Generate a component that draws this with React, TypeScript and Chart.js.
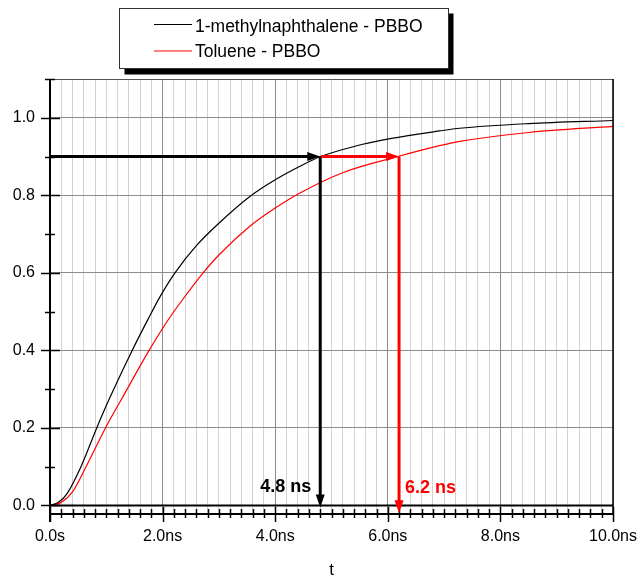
import { useEffect, useRef } from 'react';
import { Chart, registerables } from 'chart.js';
Chart.register(...registerables);

// ---- data ----
const seriesNames = ['1-methylnaphthalene - PBBO', 'Toluene - PBBO'];
const seriesColors = ['#000000', '#ff0000'];

const methylT = [0, 0.15, 0.3, 0.55, 0.83, 1.06, 1.46, 1.74, 1.96, 2.22, 2.6, 3.0, 3.55, 4.0, 4.44, 4.81, 5.4, 6.04, 6.92, 7.28, 8.5, 10];
const methylY = [0, 0.008, 0.03, 0.1, 0.2, 0.277, 0.4, 0.48, 0.54, 0.6, 0.67, 0.728, 0.797, 0.84, 0.875, 0.9, 0.926, 0.946, 0.966, 0.973, 0.985, 0.993];

const tolueneT = [0, 0.2, 0.4, 0.64, 0.985, 1.27, 1.76, 2.1, 2.35, 2.72, 3.0, 3.55, 4.0, 4.44, 5.21, 6.18, 6.92, 7.28, 8.5, 10];
const tolueneY = [0, 0.008, 0.035, 0.1, 0.2, 0.274, 0.4, 0.479, 0.53, 0.6, 0.646, 0.72, 0.767, 0.806, 0.859, 0.9, 0.928, 0.939, 0.962, 0.978];

const xTickValues = [0, 2, 4, 6, 8, 10];
const xTickLabels = ['0.0s', '2.0ns', '4.0ns', '6.0ns', '8.0ns', '10.0ns'];
const yTickValues = [0, 0.2, 0.4, 0.6, 0.8, 1.0];
const yTickLabels = ['0.0', '0.2', '0.4', '0.6', '0.8', '1.0'];
const xTitle = 't';

const level = 0.9;
const riseTimes = [4.8, 6.2];
const riseLabels = ['4.8 ns', '6.2 ns'];

const FONT = "'Liberation Sans', Arial, sans-serif";

function toPoints(ts: number[], ys: number[]) {
  return ts.map((t, i) => ({ x: t, y: ys[i] }));
}

function arrow(ctx: CanvasRenderingContext2D, x1: number, y1: number, x2: number, y2: number, color: string) {
  const len = 13;
  const half = 4.5;
  const dx = x2 - x1;
  const dy = y2 - y1;
  const d = Math.hypot(dx, dy);
  const ux = dx / d;
  const uy = dy / d;
  const bx = x2 - ux * len;
  const by = y2 - uy * len;
  ctx.strokeStyle = color;
  ctx.fillStyle = color;
  ctx.lineWidth = 3;
  ctx.beginPath();
  ctx.moveTo(x1, y1);
  ctx.lineTo(bx + ux, by + uy);
  ctx.stroke();
  ctx.beginPath();
  ctx.moveTo(x2, y2);
  ctx.lineTo(bx - uy * half, by + ux * half);
  ctx.lineTo(bx + uy * half, by - ux * half);
  ctx.closePath();
  ctx.fill();
}

const overlay = {
  id: 'overlay',
  afterDatasetsDraw(chart: any) {
    const { ctx, chartArea, scales } = chart;
    const { left, right, top, bottom } = chartArea;
    const x = scales.x;
    const y = scales.y;
    ctx.save();

    // frame
    ctx.lineCap = 'butt';
    ctx.strokeStyle = '#555';
    ctx.lineWidth = 1;
    ctx.beginPath();
    ctx.moveTo(left, top + 0.5);
    ctx.lineTo(right, top + 0.5);
    ctx.stroke();
    ctx.strokeStyle = '#000';
    ctx.lineWidth = 1.5;
    ctx.beginPath();
    ctx.moveTo(right, top);
    ctx.lineTo(right, bottom);
    ctx.stroke();

    // zero line
    const y0 = y.getPixelForValue(0);
    ctx.lineWidth = 2;
    ctx.beginPath();
    ctx.moveTo(left, y0);
    ctx.lineTo(right, y0);
    ctx.stroke();

    // left axis
    ctx.lineWidth = 2;
    ctx.beginPath();
    ctx.moveTo(left, top);
    ctx.lineTo(left, bottom + 8);
    ctx.stroke();
    // bottom axis
    ctx.beginPath();
    ctx.moveTo(left, bottom);
    ctx.lineTo(right, bottom);
    ctx.stroke();

    // y ticks every 0.1
    ctx.lineWidth = 1.5;
    for (let i = 0; i <= 11; i++) {
      const py = Math.round(y.getPixelForValue(i / 10)) + 0.5;
      const major = i % 2 === 0 && i <= 10;
      ctx.beginPath();
      ctx.moveTo(left - (major ? 9 : 5), py);
      ctx.lineTo(left + (major ? 10 : 5), py);
      ctx.stroke();
    }
    // x ticks every 0.2
    for (let i = 0; i <= 50; i++) {
      const px = Math.round(x.getPixelForValue(i / 5)) + 0.5;
      const major = i % 10 === 0;
      ctx.beginPath();
      ctx.moveTo(px, bottom - (major ? 7 : 5));
      ctx.lineTo(px, bottom + (major ? 8 : 4));
      ctx.stroke();
    }

    // arrows
    const pl = y.getPixelForValue(level);
    const pa = x.getPixelForValue(riseTimes[0]);
    const pb = x.getPixelForValue(riseTimes[1]);
    arrow(ctx, left, pl, pa, pl, seriesColors[0]);
    arrow(ctx, pa, pl, pa, y.getPixelForValue(-0.005), seriesColors[0]);
    arrow(ctx, pa + 1, pl, pb, pl, seriesColors[1]);
    arrow(ctx, pb, pl, pb, y.getPixelForValue(-0.02), seriesColors[1]);

    // labels
    ctx.font = `bold 18px ${FONT}`;
    ctx.textBaseline = 'alphabetic';
    ctx.fillStyle = seriesColors[0];
    ctx.textAlign = 'right';
    ctx.fillText(riseLabels[0], pa - 9, y.getPixelForValue(0.035));
    ctx.fillStyle = seriesColors[1];
    ctx.textAlign = 'left';
    ctx.fillText(riseLabels[1], pb + 6, y.getPixelForValue(0.032));

    // x title
    ctx.font = `17px ${FONT}`;
    ctx.fillStyle = '#000';
    ctx.textAlign = 'center';
    ctx.fillText(xTitle, (left + right) / 2, 575);

    // legend
    const lx = 119.5, ly = 8.5, lw = 329, lh = 60;
    ctx.fillStyle = '#000';
    ctx.fillRect(lx + 5, ly + 5, lw, lh + 1);
    ctx.fillStyle = '#fff';
    ctx.fillRect(lx, ly, lw, lh);
    ctx.strokeStyle = '#333';
    ctx.lineWidth = 1;
    ctx.strokeRect(lx, ly, lw, lh);
    ctx.font = `17.5px ${FONT}`;
    ctx.textAlign = 'left';
    const rows = [[24.5, 31.5], [51, 57]];
    seriesNames.forEach((name, i) => {
      ctx.strokeStyle = seriesColors[i];
      ctx.lineWidth = 1;
      ctx.beginPath();
      ctx.moveTo(154, rows[i][0]);
      ctx.lineTo(192, rows[i][0]);
      ctx.stroke();
      ctx.fillStyle = '#000';
      ctx.fillText(name, 195, rows[i][1]);
    });

    ctx.restore();
  },
};

export default function App() {
  const ref = useRef<HTMLCanvasElement | null>(null);
  useEffect(() => {
    if (!ref.current) return;
    const chart = new Chart(ref.current, {
      type: 'line',
      data: {
        datasets: [
          {
            label: seriesNames[0],
            data: toPoints(methylT, methylY),
            borderColor: seriesColors[0],
            borderWidth: 1.2,
            pointRadius: 0,
            cubicInterpolationMode: 'monotone',
          },
          {
            label: seriesNames[1],
            data: toPoints(tolueneT, tolueneY),
            borderColor: seriesColors[1],
            borderWidth: 1.2,
            pointRadius: 0,
            cubicInterpolationMode: 'monotone',
          },
        ],
      },
      options: {
        animation: false,
        responsive: false,
        devicePixelRatio: 1,
        layout: { padding: { left: 0, right: 27, top: 79, bottom: 0 } },
        plugins: { legend: { display: false }, tooltip: { enabled: false } },
        scales: {
          x: {
            type: 'linear',
            min: 0,
            max: 10,
            afterBuildTicks: (s: any) => {
              const t = [];
              for (let i = 0; i <= 50; i++) t.push({ value: Math.round(i * 2) / 10 });
              s.ticks = t;
            },
            afterFit: (s: any) => {
              s.height = 65;
              s.paddingLeft = 0;
              s.paddingRight = 0;
            },
            ticks: {
              autoSkip: false,
              maxRotation: 0,
              padding: 13,
              color: '#000',
              font: { family: FONT, size: 16 },
              callback: (v: any) => {
                const idx = xTickValues.findIndex((tv) => Math.abs(tv - v) < 1e-6);
                return idx >= 0 ? xTickLabels[idx] : '';
              },
            },
            grid: {
              drawTicks: false,
              lineWidth: 1,
              color: (c: any) => {
                const v = c.tick ? c.tick.value : 0;
                return Math.abs(v / 2 - Math.round(v / 2)) < 1e-6 ? '#8c8c8c' : '#d2d2d2';
              },
            },
            border: { display: false },
          },
          y: {
            type: 'linear',
            min: -0.022,
            max: 1.1,
            afterBuildTicks: (s: any) => {
              s.ticks = yTickValues.map((v) => ({ value: v }));
            },
            afterFit: (s: any) => {
              s.width = 50;
              s.paddingTop = 0;
              s.paddingBottom = 0;
            },
            ticks: {
              autoSkip: false,
              padding: 15,
              color: '#000',
              font: { family: FONT, size: 16 },
              callback: (v: any) => {
                const idx = yTickValues.findIndex((tv) => Math.abs(tv - v) < 1e-6);
                return idx >= 0 ? yTickLabels[idx] : '';
              },
            },
            grid: { drawTicks: false, lineWidth: 1, color: '#8c8c8c' },
            border: { display: false },
          },
        },
      },
      plugins: [overlay],
    } as any);
    return () => chart.destroy();
  }, []);
  return (
    <div style={{ position: 'fixed', left: 0, top: 0, width: 640, height: 579, background: '#fff' }}>
      <canvas ref={ref} width={640} height={579} style={{ width: 640, height: 579, display: 'block' }} />
    </div>
  );
}
